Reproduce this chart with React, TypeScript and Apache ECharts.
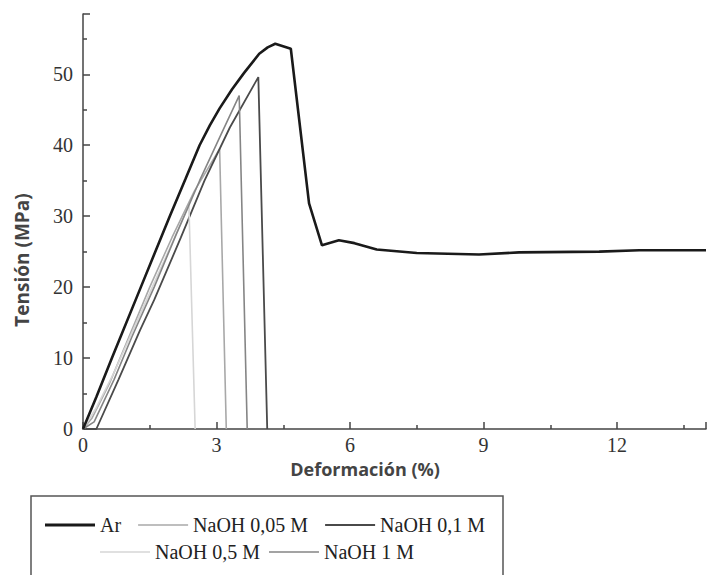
import React, { useEffect, useRef } from "react";
import * as echarts from "echarts";

const seriesNames = ["Ar", "NaOH 0,05 M", "NaOH 0,1 M", "NaOH 0,5 M", "NaOH 1 M"];

const arData = [
  [0, 0], [0.3, 4.5], [0.65, 10], [1.3, 20], [1.95, 30], [2.3, 35.2], [2.62, 40],
  [2.85, 42.8], [3.07, 45.2], [3.35, 47.9], [3.62, 50.2], [3.96, 52.9], [4.15, 53.8],
  [4.32, 54.3], [4.67, 53.6], [5.08, 31.8], [5.37, 25.9], [5.75, 26.6], [6.1, 26.2],
  [6.6, 25.3], [7.5, 24.8], [8.9, 24.6], [9.8, 24.9], [11.6, 25.0], [12.5, 25.2],
  [14, 25.2],
];
const naoh005Data = [
  [0, 0], [0.2, 1.5], [0.6, 6.5], [1.0, 12.5], [1.5, 20], [2.0, 27], [2.5, 33.5],
  [3.07, 39.5], [3.22, 0],
];
const naoh01Data = [
  [0, 0], [0.3, 0], [0.8, 7], [1.28, 13.9], [1.6, 18.2], [2.2, 27], [2.73, 35],
  [3.3, 42.5], [3.94, 49.6], [4.14, 0],
];
const naoh05Data = [
  [0, 0], [0.3, 3], [0.7, 8], [1.2, 15], [1.7, 22], [2.38, 31.5], [2.52, 0],
];
const naoh1Data = [
  [0, 0], [0.25, 1], [0.7, 7], [1.1, 13], [1.6, 20], [2.1, 27.5], [2.62, 35],
  [3.1, 41.5], [3.51, 47.0], [3.69, 0],
];

const xMax = 14;
const yMax = 58.5;

const seriesData = [arData, naoh005Data, naoh01Data, naoh05Data, naoh1Data];
const seriesColors = ["#1a1a1a", "#a8a8a8", "#4a4a4a", "#d6d6d6", "#858585"];
const seriesWidths = [2.6, 1.6, 1.8, 1.6, 1.6];
const legendIcons = [
  "path://M0,0h50v3h-50z",
  "path://M0,0h50v1.6h-50z",
  "path://M0,0h50v2h-50z",
  "path://M0,0h50v1.6h-50z",
  "path://M0,0h50v1.6h-50z",
];

const serif = "Liberation Serif";
const sans = "Open Sans";

const lineAxis = {
  type: "value",
  axisLine: { show: true, lineStyle: { color: "#444", width: 1.5 } },
  axisTick: { show: true, inside: true, length: 7, lineStyle: { color: "#444", width: 1.5 } },
  minorTick: { show: true, splitNumber: 2, length: 4, lineStyle: { color: "#444", width: 1.5 } },
  splitLine: { show: false },
  axisLabel: { show: false },
};

export default function App() {
  const ref = useRef<HTMLDivElement>(null);
  useEffect(() => {
    if (!ref.current) return;
    const chart = echarts.init(ref.current, null, { renderer: "svg" });
    chart.setOption({
      animation: false,
      backgroundColor: "#ffffff",
      grid: { left: 83, top: 14, right: 0, bottom: 146 },
      xAxis: [
        { ...lineAxis, min: 0, max: xMax, interval: 3 },
        {
          type: "value",
          position: "bottom",
          min: 0,
          max: xMax,
          interval: 3,
          axisLine: { show: false },
          axisTick: { show: false },
          splitLine: { show: false },
          axisLabel: {
            color: "#333",
            fontSize: 20,
            fontFamily: serif,
            margin: 6,
            formatter: (v: number) => (v >= xMax ? "" : String(v)),
          },
        },
      ],
      yAxis: [
        { ...lineAxis, min: 0, max: yMax, interval: 10 },
        {
          type: "value",
          position: "left",
          min: 0,
          max: yMax,
          interval: 10,
          axisLine: { show: false },
          axisTick: { show: false },
          splitLine: { show: false },
          axisLabel: {
            color: "#333",
            fontSize: 20,
            fontFamily: serif,
            margin: 10,
            formatter: (v: number) => (v >= yMax ? "" : String(v)),
          },
        },
      ],
      legend: [
        {
          data: seriesNames.slice(0, 3).map((n, i) => ({ name: n, icon: legendIcons[i] })),
          left: 45,
          top: 515,
          itemWidth: 50,
          itemHeight: 12,
          itemGap: 17,
          padding: 0,
          textStyle: { fontFamily: serif, fontSize: 20, color: "#222" },
        },
        {
          data: seriesNames.slice(3).map((n, i) => ({ name: n, icon: legendIcons[i + 3] })),
          left: 100,
          top: 542,
          itemWidth: 50,
          itemHeight: 12,
          itemGap: 9,
          padding: 0,
          textStyle: { fontFamily: serif, fontSize: 20, color: "#222" },
        },
      ],
      graphic: [
        {
          type: "rect",
          shape: { x: 31, y: 496, width: 472, height: 110 },
          style: { fill: "none", stroke: "#555", lineWidth: 1.5 },
          silent: true,
        },
        {
          type: "text",
          x: 365,
          y: 469,
          style: {
            text: "Deformación (%)",
            fontFamily: sans,
            fontWeight: "bold",
            fontSize: 18,
            fill: "#444",
            align: "center",
            verticalAlign: "middle",
          },
        },
        {
          type: "text",
          x: 22,
          y: 260,
          rotation: Math.PI / 2,
          style: {
            text: "Tensión (MPa)",
            fontFamily: sans,
            fontWeight: "bold",
            fontSize: 19,
            fill: "#444",
            align: "center",
            verticalAlign: "middle",
          },
        },
      ],
      series: seriesNames.map((name, i) => ({
        name,
        type: "line",
        xAxisIndex: 0,
        yAxisIndex: 0,
        data: seriesData[i],
        symbol: "none",
        smooth: false,
        z: i === 0 ? 5 : 2 + i * 0.1,
        lineStyle: { color: seriesColors[i], width: seriesWidths[i] },
        itemStyle: { color: seriesColors[i] },
      })),
    });
    return () => chart.dispose();
  }, []);
  return <div ref={ref} style={{ width: 709, height: 575, position: "absolute", left: 0, top: 0 }} />;
}
